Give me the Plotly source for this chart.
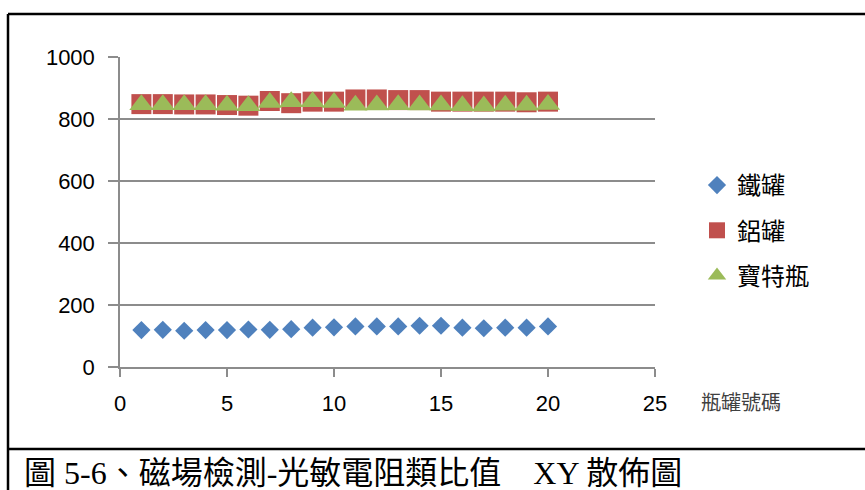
import plotly.graph_objects as go

# Bottle / can index on the x axis
bottle_no = list(range(1, 21))

# Photoresistor analog readings under the magnetic-field test
iron_can = [119, 120, 117, 119, 119, 121, 120, 122, 127, 128,
            131, 131, 131, 133, 133, 127, 125, 127, 127, 131]
alu_can = [848, 848, 847, 847, 845, 843, 858, 851, 856, 856,
           863, 863, 861, 861, 856, 856, 856, 856, 854, 856]
pet_bottle = [846, 846, 846, 846, 844, 843, 853, 856, 856, 853,
              844, 845, 846, 845, 845, 843, 842, 844, 844, 847]

series_names = ["鐵罐", "鋁罐", "寶特瓶"]
x_ticks = [0, 5, 10, 15, 20, 25]
y_ticks = [0, 200, 400, 600, 800, 1000]
x_title = "瓶罐號碼"
caption = "圖 5-6、磁場檢測-光敏電阻類比值　XY 散佈圖"

W, H = 865, 490
L, R, T, B = 120, 655, 57, 367  # plot-area edges in pixels


def px_x(p):
    return (p - L) / (R - L)


def px_y(p):
    return (B - p) / (B - T)


cjk = "Noto Sans CJK TC, Noto Sans CJK JP, sans-serif"

fig = go.Figure()
fig.add_trace(go.Scatter(
    x=bottle_no, y=iron_can, mode="markers", name=series_names[0],
    legendgroup="a",
    marker=dict(symbol="diamond", size=14, color="#4F81BD",
                line=dict(width=0))))
fig.add_trace(go.Scatter(
    x=bottle_no, y=alu_can, mode="markers", name=series_names[1],
    legendgroup="b",
    marker=dict(symbol="square", size=20, color="#C0504D",
                line=dict(width=0))))
fig.add_trace(go.Scatter(
    x=bottle_no, y=pet_bottle, mode="markers", name=series_names[2],
    legendgroup="c",
    marker=dict(symbol="triangle-up", size=21, color="#9BBB59",
                line=dict(width=0))))

axis_grey = "#8C8C8C"
fig.update_layout(
    width=W, height=H,
    margin=dict(l=L, r=W - R, t=T, b=H - B, pad=0),
    paper_bgcolor="white", plot_bgcolor="white",
    font=dict(family="Liberation Sans, Arial, sans-serif", size=22, color="black"),
    xaxis=dict(range=[0, 25], tickvals=x_ticks, showgrid=False, zeroline=False,
               showline=True, linecolor=axis_grey, linewidth=1.5,
               ticks="outside", ticklen=8, tickcolor=axis_grey, tickwidth=1.5,
               ticklabelstandoff=8,
               tickfont=dict(size=22)),
    yaxis=dict(range=[0, 1000], tickvals=y_ticks, showgrid=True,
               gridcolor=axis_grey, gridwidth=1.5, zeroline=False,
               showline=True, linecolor=axis_grey, linewidth=1.5,
               ticks="outside", ticklen=10, tickcolor=axis_grey, tickwidth=1.5,
               ticklabelstandoff=9,
               tickfont=dict(size=22)),
    legend=dict(x=px_x(697), y=px_y(163), xanchor="left", yanchor="top",
                font=dict(family=cjk, size=24, color="black"),
                tracegroupgap=11, itemwidth=30,
                bgcolor="rgba(0,0,0,0)"),
    showlegend=True,
)

fig.add_annotation(
    text=x_title, xref="paper", yref="paper",
    x=px_x(699), y=px_y(401), xanchor="left", yanchor="middle",
    showarrow=False, font=dict(family=cjk, size=20, color="#404040"))

fig.add_annotation(
    text=caption, xref="paper", yref="paper",
    x=px_x(22), y=px_y(473), xanchor="left", yanchor="middle",
    showarrow=False,
    font=dict(family="Liberation Serif, Noto Sans CJK TC, serif", size=32,
              color="black"))

# Frame lines around the chart and above the caption
frame = dict(color="black", width=2.5)
fig.add_shape(type="line", xref="paper", yref="paper",
              x0=px_x(8), x1=px_x(W + 5), y0=px_y(14), y1=px_y(14), line=frame)
fig.add_shape(type="line", xref="paper", yref="paper",
              x0=px_x(8), x1=px_x(8), y0=px_y(14), y1=px_y(H + 5), line=frame)
fig.add_shape(type="line", xref="paper", yref="paper",
              x0=px_x(8), x1=px_x(W + 5), y0=px_y(449), y1=px_y(449), line=frame)

fig.write_html("out.html")
